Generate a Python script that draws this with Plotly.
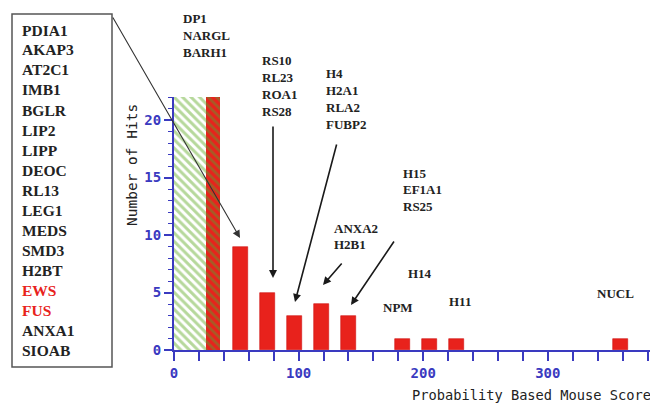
import plotly.graph_objects as go

# ---- data ----
score_bins = [53, 75, 97, 118, 140, 183, 205, 227, 358]
hits = [9, 5, 3, 4, 3, 1, 1, 1, 1]

low_green_bin = [12.85]
low_green_hits = [22]
low_red_bin = [31.35]
low_red_hits = [22]

box_proteins = ["PDIA1", "AKAP3", "AT2C1", "IMB1", "BGLR", "LIP2", "LIPP", "DEOC",
                "RL13", "LEG1", "MEDS", "SMD3", "H2BT", "EWS", "FUS", "ANXA1", "SIOAB"]
highlighted = ["EWS", "FUS"]

group_dp1 = ["DP1", "NARGL", "BARH1"]
group_rs10 = ["RS10", "RL23", "ROA1", "RS28"]
group_h4 = ["H4", "H2A1", "RLA2", "FUBP2"]
group_h15 = ["H15", "EF1A1", "RS25"]
group_anxa2 = ["ANXA2", "H2B1"]
single_labels = ["H14", "NPM", "H11", "NUCL"]

x_ticks = [0, 100, 200, 300]
y_ticks = [0, 5, 10, 15, 20]

# ---- geometry helpers (pixel -> paper) ----
W, H = 650, 403
L, R, T, B = 174, 0, 97, 53
PW, PH = W - L - R, H - T - B


def px(x):
    return (x - L) / PW


def py(y):
    return (H - B - y) / PH


RED = "#e8221c"
GREEN = "#6db238"
BLUE = "#3a3ac0"
SERIF = "Liberation Serif"

fig = go.Figure()

fig.add_trace(go.Bar(
    x=low_green_bin, y=low_green_hits, width=25.7,
    marker=dict(color="white", line=dict(width=0),
                pattern=dict(shape="\\", fgcolor=GREEN, bgcolor="white",
                             size=6, solidity=0.5)),
    showlegend=False, hoverinfo="skip"))
fig.add_trace(go.Bar(
    x=low_red_bin, y=low_red_hits, width=11.3,
    marker=dict(color=RED, line=dict(width=0),
                pattern=dict(shape="\\", fgcolor="#5e9a30", bgcolor=RED,
                             size=6, solidity=0.45)),
    showlegend=False, hoverinfo="skip"))
fig.add_trace(go.Bar(
    x=score_bins, y=hits, width=12,
    marker=dict(color=RED, line=dict(width=0.6, color="#d01010")),
    showlegend=False))

annotations = []
shapes = []

# left box
shapes.append(dict(type="rect", xref="paper", yref="paper",
                   x0=px(12), x1=px(112), y0=py(367), y1=py(14),
                   line=dict(color="#555555", width=1.5), fillcolor="rgba(0,0,0,0)"))
for i, name in enumerate(box_proteins):
    annotations.append(dict(
        xref="paper", yref="paper", x=px(20), y=py(30 + 20 * i),
        xanchor="left", yanchor="middle", showarrow=False, text=name,
        font=dict(family=SERIF, size=15.5, weight="bold",
                  color=RED if name in highlighted else "#222222")))


def group(lines, x, y0, dy=16.9, size=13):
    for j, t in enumerate(lines):
        annotations.append(dict(
            xref="paper", yref="paper", x=px(x), y=py(y0 + dy * j),
            xanchor="left", yanchor="middle", showarrow=False, text=t,
            font=dict(family=SERIF, size=size, weight="bold", color="#222222")))


group(group_dp1, 181, 18.5)
group(group_rs10, 260, 61)
group(group_h4, 324, 73.5)
group(group_h15, 401, 173)
group(group_anxa2, 332, 228)
single_pos = [(406, 273), (381, 307), (447, 301), (595, 293)]
for t, (x, y) in zip(single_labels, single_pos):
    group([t], x, y)


def arrow(tail, tip, width=1.6, color="#1a1a1a", size=1.0):
    annotations.append(dict(
        xref="paper", yref="paper", x=px(tip[0]), y=py(tip[1]),
        ax=tail[0] - tip[0], ay=tail[1] - tip[1], axref="pixel", ayref="pixel",
        text="", showarrow=True, arrowhead=2, arrowsize=size,
        arrowwidth=width, arrowcolor=color, standoff=0))


arrow((112, 16), (240, 238), width=1.1, color="#333333", size=1.4)
arrow((273, 125), (273, 278))
arrow((337, 143), (295, 302))
arrow((343, 262), (323, 285))
arrow((395, 240), (351, 305))

# axis titles
annotations.append(dict(
    xref="paper", yref="paper", x=px(410), y=py(395), xanchor="left", yanchor="middle",
    showarrow=False, text="Probability Based Mouse Score",
    font=dict(family="DejaVu Sans Mono", size=13.7, color="#222222")))
annotations.append(dict(
    xref="paper", yref="paper", x=px(132), y=py(165), xanchor="center", yanchor="middle",
    showarrow=False, text="Number of Hits", textangle=-90,
    font=dict(family="DejaVu Sans Mono", size=14.5, color="#222222")))

fig.update_layout(
    width=W, height=H,
    margin=dict(l=L, r=R, t=T, b=B, pad=0),
    paper_bgcolor="white", plot_bgcolor="white",
    barmode="overlay", bargap=0,
    annotations=annotations, shapes=shapes,
    xaxis=dict(range=[0, 382], showgrid=False, zeroline=False,
               showline=True, linecolor=BLUE, linewidth=2,
               tickmode="array", tickvals=x_ticks, ticktext=[str(v) for v in x_ticks],
               ticks="outside", ticklen=9, tickwidth=1.5, tickcolor=BLUE,
               minor=dict(dtick=20, tick0=0, ticks="outside", ticklen=9,
                          tickwidth=1.5, tickcolor=BLUE),
               tickfont=dict(family="DejaVu Sans Mono", size=14, color=BLUE,
                             weight="bold")),
    yaxis=dict(range=[0, 22], showgrid=False, zeroline=False,
               showline=True, linecolor=BLUE, linewidth=2,
               tickmode="array", tickvals=y_ticks, ticktext=[str(v) for v in y_ticks],
               ticks="outside", ticklen=8, tickwidth=1.5, tickcolor=BLUE,
               minor=dict(dtick=1, tick0=0, ticks="outside", ticklen=4,
                          tickwidth=1.2, tickcolor=BLUE),
               tickfont=dict(family="DejaVu Sans Mono", size=14, color=BLUE,
                             weight="bold")),
)

fig.write_html("out.html", config={"displayModeBar": False},
               post_script="document.body.style.margin='0';"
                           "document.body.style.overflow='hidden';")
